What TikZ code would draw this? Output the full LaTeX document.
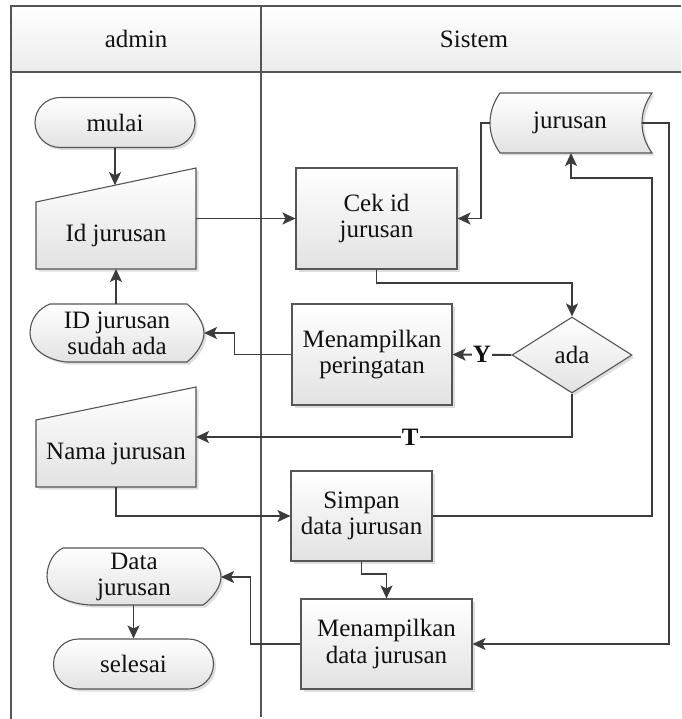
\documentclass[tikz,border=0pt]{standalone}
\usepackage{fontspec}
\setmainfont{Liberation Serif}
\usetikzlibrary{arrows.meta,shapes.misc,shapes.geometric,shadows,calc}

\definecolor{linec}{HTML}{3C3C3C}
\definecolor{edgec}{HTML}{555555}
\definecolor{fillb}{HTML}{E2E2E2}
\definecolor{hdrb}{HTML}{EBEBEB}
\definecolor{txt}{HTML}{111111}

\tikzset{
  base/.style={font=\fontsize{25}{26.5}\selectfont, text=txt, align=center, inner sep=0pt},
  shapefill/.style={draw=edgec, line width=1.1pt, top color=white, bottom color=fillb,
    drop shadow={shadow xshift=2.5pt, shadow yshift=-2.5pt, fill=black!13, opacity=1}},
  procbox/.style={base, shapefill, rectangle},
  termbox/.style={base, shapefill, rounded rectangle, minimum width=160pt, minimum height=50pt},
  decision/.style={base, shapefill, diamond, minimum width=120pt, minimum height=76pt},
  flow/.style={draw=linec, line width=1.9pt, -{Stealth[length=13pt,width=12pt,inset=3pt]}},
  lane/.style={draw=edgec, line width=1.1pt},
  branch/.style={base, font=\fontsize{25}{26.5}\selectfont\bfseries, fill=white, inner sep=1pt},
}

\begin{document}
\begin{tikzpicture}[x=1pt,y=-1pt]
\useasboundingbox (0,0) rectangle (681,719);

% swimlane frame and headers
\path[top color=white, bottom color=hdrb] (11,6) rectangle (681,72);
\draw[lane] (681,6) -- (11,6) -- (11,719);
\draw[lane] (11,72) -- (681,72);
\draw[lane] (261,6) -- (261,717);
\node[base] (hadmin) at (136,39) {admin};
\node[base] (hsistem) at (474,39) {Sistem};

% admin lane
\node[termbox] (mulai) at (115,122.5) {mulai};

\path[shapefill] (36,202) -- (196,168) -- (196,269) -- (36,269) -- cycle;
\node[base] (idj) at (116,235) {Id jurusan};
\coordinate (idjN) at (115,185.2);
\coordinate (idjE) at (196,218.5);
\coordinate (idjS) at (116,269);

\path[shapefill] (50,304) -- (187,304)
  .. controls (197,312) and (204,324) .. (204,333)
  .. controls (204,342) and (197,354) .. (187,362) -- (66,362)
  .. controls (42,359) and (30,346) .. (30,333)
  .. controls (30,319) and (39,308) .. (50,304) -- cycle;
\node[base] (sudah) at (117,333.5) {ID jurusan\\sudah ada};
\coordinate (sudahN) at (116,304);
\coordinate (sudahE) at (204,333);

\path[shapefill] (36,420) -- (196,387) -- (196,487) -- (36,487) -- cycle;
\node[base] (nama) at (116,454) {Nama jurusan};
\coordinate (namaE) at (196,437);
\coordinate (namaS) at (116,487);

\path[shapefill] (63,548) -- (203,548)
  .. controls (213,556) and (221,568) .. (221,577)
  .. controls (221,586) and (213,598) .. (203,605) -- (90,605)
  .. controls (60,603) and (47,590) .. (47,577)
  .. controls (47,563) and (54,552) .. (63,548) -- cycle;
\node[base] (data) at (134,577) {Data\\jurusan};
\coordinate (dataE) at (221,577);
\coordinate (dataS) at (133.5,605);

\node[termbox] (selesai) at (133.5,664) {selesai};

% system lane
\path[shapefill] (500,93) -- (652,93)
  .. controls (645,103) and (642,113) .. (642,123)
  .. controls (642,133) and (645,143) .. (652,153) -- (500,153)
  .. controls (493,143) and (490,133) .. (490,123)
  .. controls (490,113) and (493,103) .. (500,93) -- cycle;
\node[base] (jur) at (570,123) {jurusan};
\coordinate (jurW) at (490,123);
\coordinate (jurE) at (642,123);
\coordinate (jurS) at (571,153);
\coordinate (rail) at (652,178);

\node[procbox, minimum width=161pt, minimum height=101pt] (cek) at (376.5,218.5) {Cek id\\jurusan};
\node[decision] (ada) at (572,355) {ada};
\node[procbox, minimum width=160pt, minimum height=101pt] (per) at (372,354.5) {Menampilkan\\peringatan};
\node[procbox, minimum width=141pt, minimum height=90pt] (simpan) at (361.5,516) {Simpan\\data jurusan};
\node[procbox, minimum width=171pt, minimum height=90pt] (tampil) at (386.5,644) {Menampilkan\\data jurusan};

% connectors
\draw[flow] (mulai.south) -- (idjN);
\draw[flow] (idjE) -- (cek.west);
\draw[flow] (jurW) -- ++(-9,0) |- (cek.east);
\draw[flow] (cek.south) -- ++(0,13) -| (ada.north);
\draw[flow] (ada.west) -- node[branch] {Y} (per.east);
\draw[flow] (per.west) -- ++(-57,0) |- (sudahE);
\draw[flow] (sudahN) -- (idjS);
\draw[flow] (ada.south) |- node[branch, pos=0.715] {T} (namaE);
\draw[flow] (namaS) |- (simpan.west);
\draw[flow] (simpan.east) -| (rail) -| (jurS);
\draw[flow] (jurE) -- ++(27,0) |- (tampil.east);
\draw[flow] (simpan.south) -- ++(0,12) -| (tampil.north);
\draw[flow] (tampil.west) -- ++(-50,0) |- (dataE);
\draw[flow] (dataS) -- (selesai.north);
\end{tikzpicture}
\end{document}
